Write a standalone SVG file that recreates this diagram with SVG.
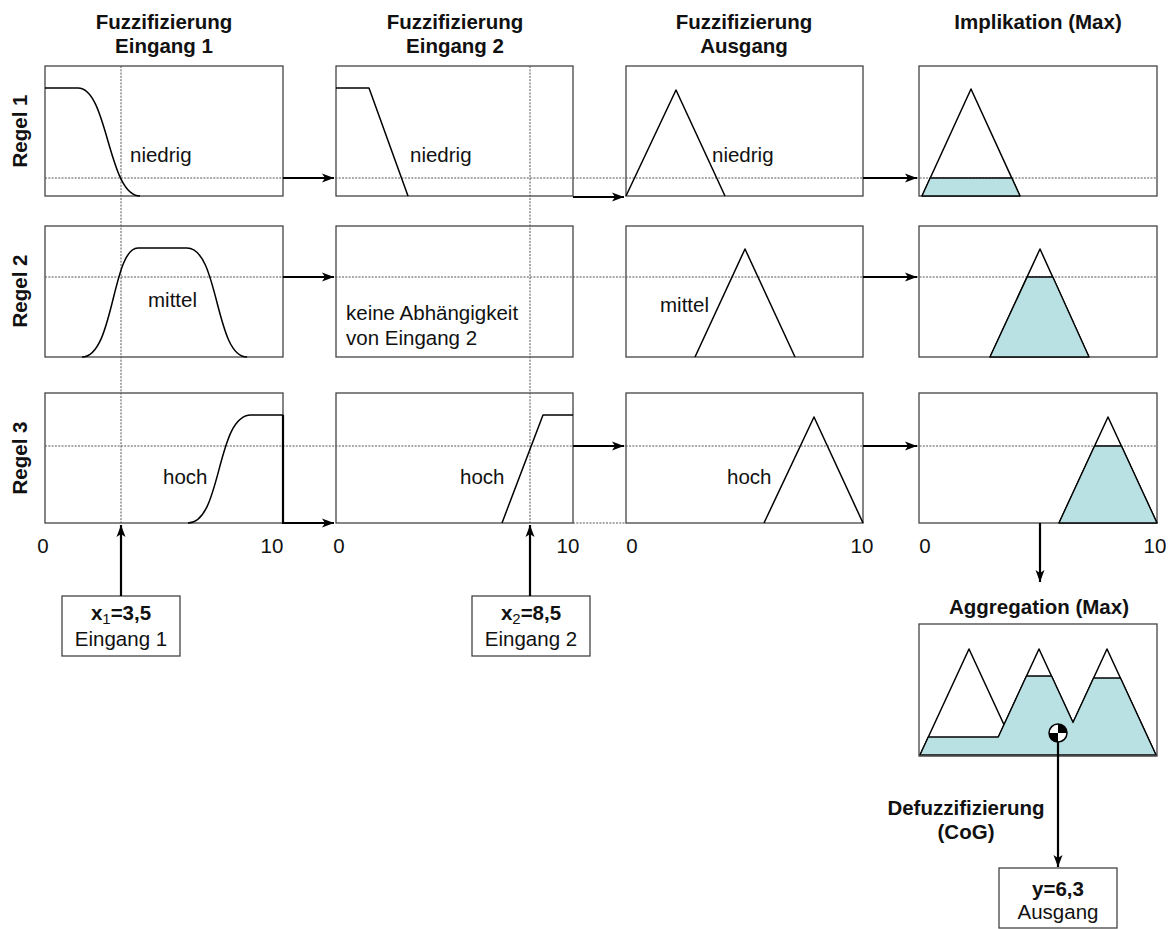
<svg xmlns="http://www.w3.org/2000/svg" width="1176" height="929" viewBox="0 0 1176 929">
  <style>
    .box { fill: #fff; stroke: #444; stroke-width: 1.3; }
    .mf { fill: none; stroke: #000; stroke-width: 1.5; stroke-linejoin: round; }
    .cut { fill: #b9e0e3; stroke: #000; stroke-width: 1.3; stroke-linejoin: round; }
    .guide { fill: none; stroke: #555; stroke-width: 1; stroke-dasharray: 2 1.3; }
    .arrow { fill: none; stroke: #000; stroke-width: 2.2; marker-end: url(#head); }
    .h { font-family: "Liberation Sans", Arial, sans-serif; font-weight: bold; font-size: 20.5px; fill: #111; text-anchor: middle; }
    .t { font-family: "Liberation Sans", Arial, sans-serif; font-size: 20.5px; fill: #111; }
    .c { text-anchor: middle; }
    .sub { font-size: 15px; font-weight: normal; }
  </style>
  <defs>
    <marker id="head" markerUnits="userSpaceOnUse" markerWidth="14" markerHeight="12" refX="12" refY="5" orient="auto">
      <path d="M0,0.5 L12,5 L0,9.5 L3,5 z" fill="#000"/>
    </marker>
  </defs>

  <!-- column headings -->
  <g id="headings">
    <text class="h" x="164" y="29">Fuzzifizierung</text>
    <text class="h" x="164" y="53">Eingang 1</text>
    <text class="h" x="455" y="29">Fuzzifizierung</text>
    <text class="h" x="455" y="53">Eingang 2</text>
    <text class="h" x="744" y="29">Fuzzifizierung</text>
    <text class="h" x="744" y="53">Ausgang</text>
    <text class="h" x="1038" y="29">Implikation (Max)</text>
  </g>

  <!-- rule labels -->
  <g id="rules">
    <text class="h" transform="translate(27,131) rotate(-90)">Regel 1</text>
    <text class="h" transform="translate(27,291) rotate(-90)">Regel 2</text>
    <text class="h" transform="translate(27,458) rotate(-90)">Regel 3</text>
  </g>

  <!-- panel frames -->
  <g id="frames">
    <rect class="box" x="45" y="66" width="238" height="130"/>
    <rect class="box" x="336" y="66" width="237" height="130"/>
    <rect class="box" x="626" y="66" width="237" height="130"/>
    <rect class="box" x="919" y="66" width="238" height="130"/>
    <rect class="box" x="45" y="226" width="238" height="131"/>
    <rect class="box" x="336" y="226" width="237" height="131"/>
    <rect class="box" x="626" y="226" width="237" height="131"/>
    <rect class="box" x="919" y="226" width="238" height="131"/>
    <rect class="box" x="45" y="393" width="238" height="130"/>
    <rect class="box" x="336" y="393" width="237" height="130"/>
    <rect class="box" x="626" y="393" width="237" height="130"/>
    <rect class="box" x="919" y="393" width="238" height="130"/>
  </g>

  <!-- guide lines: input values and firing levels -->
  <g id="guides">
    <line class="guide" x1="121" y1="66" x2="121" y2="523"/>
    <line class="guide" x1="530" y1="66" x2="530" y2="523"/>
    <line class="guide" x1="45" y1="178" x2="1157" y2="178"/>
    <line class="guide" x1="45" y1="277" x2="1157" y2="277"/>
    <line class="guide" x1="45" y1="446" x2="1157" y2="446"/>
    <line class="guide" x1="573" y1="523" x2="626" y2="523"/>
  </g>

  <!-- Eingang 1 membership functions -->
  <g id="in1-niedrig">
    <path class="mf" d="M45,88 H78 C108,88 108,196 140,196"/>
    <text class="t" x="130" y="162">niedrig</text>
  </g>
  <g id="in1-mittel">
    <path class="mf" d="M82,357 C114,357 112,248 138,248 H187 C219,248 215,357 247,357"/>
    <text class="t" x="148" y="307">mittel</text>
  </g>
  <g id="in1-hoch">
    <path class="mf" d="M188,523 C222,523 216,415 251,415 H283"/>
    <text class="t" x="163" y="484">hoch</text>
  </g>

  <!-- Eingang 2 membership functions -->
  <g id="in2-niedrig">
    <path class="mf" d="M336,88 H369 L408,196"/>
    <text class="t" x="410" y="162">niedrig</text>
  </g>
  <g id="in2-none">
    <text class="t" x="346" y="320">keine Abhängigkeit</text>
    <text class="t" x="346" y="345">von Eingang 2</text>
  </g>
  <g id="in2-hoch">
    <path class="mf" d="M502,523 L543,415 H573"/>
    <text class="t" x="460" y="484">hoch</text>
  </g>

  <!-- output membership functions -->
  <g id="out-niedrig">
    <polyline class="mf" points="626,196 676,90 725,196"/>
    <text class="t" x="712" y="162">niedrig</text>
  </g>
  <g id="out-mittel">
    <polyline class="mf" points="695,357 745,249 795,357"/>
    <text class="t" x="660" y="312">mittel</text>
  </g>
  <g id="out-hoch">
    <polyline class="mf" points="764,523 814,417 863,523"/>
    <text class="t" x="727" y="484">hoch</text>
  </g>

  <!-- implication results -->
  <g id="impl-1">
    <polyline class="mf" points="922,196 971,89 1020,196"/>
    <polygon class="cut" points="922,196 930.2,178 1011.8,178 1020,196"/>
  </g>
  <g id="impl-2">
    <polyline class="mf" points="990,357 1040,249 1089,357"/>
    <polygon class="cut" points="990,357 1027.2,277 1052.8,277 1089,357"/>
  </g>
  <g id="impl-3">
    <polyline class="mf" points="1059,523 1108,417 1157,523"/>
    <polygon class="cut" points="1059,523 1094.6,446 1121.4,446 1157,523"/>
  </g>

  <!-- axis ticks -->
  <g id="axes">
    <text class="t c" x="43" y="553">0</text>
    <text class="t c" x="272" y="553">10</text>
    <text class="t c" x="339" y="553">0</text>
    <text class="t c" x="568" y="553">10</text>
    <text class="t c" x="632" y="553">0</text>
    <text class="t c" x="862" y="553">10</text>
    <text class="t c" x="925" y="553">0</text>
    <text class="t c" x="1155" y="553">10</text>
  </g>

  <!-- crisp inputs -->
  <g id="input-1">
    <rect class="box" x="62" y="596" width="118" height="60"/>
    <text class="h" x="121" y="620">x<tspan class="sub" dy="4">1</tspan><tspan dy="-4">=3,5</tspan></text>
    <text class="t c" x="121" y="646">Eingang 1</text>
  </g>
  <g id="input-2">
    <rect class="box" x="472" y="596" width="118" height="60"/>
    <text class="h" x="531" y="620">x<tspan class="sub" dy="4">2</tspan><tspan dy="-4">=8,5</tspan></text>
    <text class="t c" x="531" y="646">Eingang 2</text>
  </g>

  <!-- aggregation -->
  <g id="aggregation">
    <text class="h" x="1039" y="614">Aggregation (Max)</text>
    <rect class="box" x="919" y="624" width="238" height="132"/>
    <polyline class="mf" points="920,755 969,649 1018,755"/>
    <polyline class="mf" points="990,755 1039,649 1088,755"/>
    <polyline class="mf" points="1058,755 1107,649 1156,755"/>
    <polygon class="cut" points="920,755 928.3,737 998.3,737 1026.5,676 1051.5,676 1073,722.6 1093.6,678 1120.4,678 1156,755"/>
    <line x1="919" y1="755.5" x2="1157" y2="755.5" stroke="#444" stroke-width="1.3"/>
  </g>

  <!-- centre of gravity -->
  <g id="cog">
    <circle cx="1058" cy="733" r="9" fill="#fff" stroke="#000" stroke-width="1.5"/>
    <path d="M1058,733 V724 A9,9 0 0 1 1067,733 z" fill="#000"/>
    <path d="M1058,733 V742 A9,9 0 0 1 1049,733 z" fill="#000"/>
  </g>

  <g id="defuzz-label">
    <text class="h" x="966" y="815">Defuzzifizierung</text>
    <text class="h" x="966" y="839">(CoG)</text>
  </g>

  <!-- crisp output -->
  <g id="output">
    <rect class="box" x="999" y="868" width="118" height="60"/>
    <text class="h" x="1058" y="896">y=6,3</text>
    <text class="t c" x="1058" y="919">Ausgang</text>
  </g>

  <!-- connectors -->
  <g id="connectors">
    <path class="arrow" d="M283,178 H334"/>
    <path class="arrow" d="M573,197 H624"/>
    <path class="arrow" d="M863,178 H917"/>
    <path class="arrow" d="M283,277 H334"/>
    <path class="arrow" d="M863,277 H917"/>
    <path class="arrow" d="M283,415 V523 H334"/>
    <path class="arrow" d="M573,446 H624"/>
    <path class="arrow" d="M863,446 H917"/>
    <path class="arrow" d="M121,596 V525"/>
    <path class="arrow" d="M530,596 V525"/>
    <path class="arrow" d="M1040,523 V582"/>
    <path class="arrow" d="M1058,742 V867"/>
  </g>
</svg>
